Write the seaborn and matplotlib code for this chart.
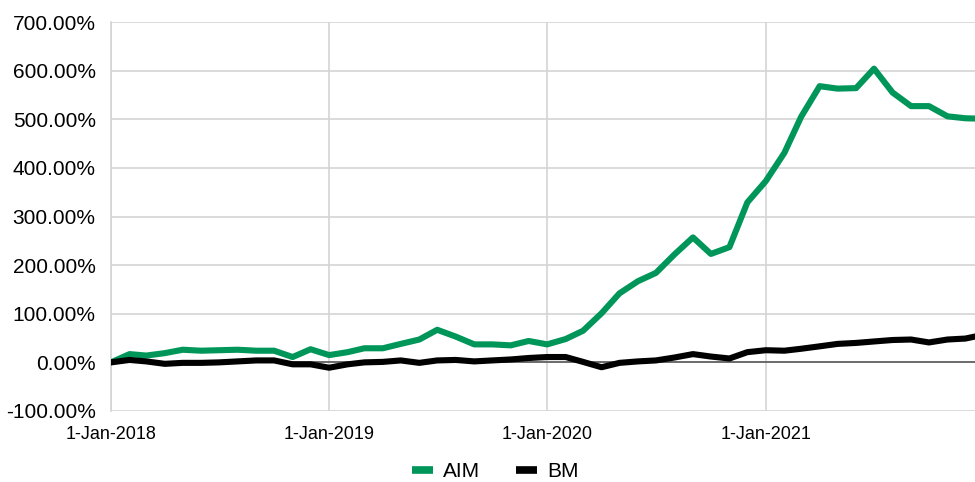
import pandas as pd
import numpy as np
import matplotlib
matplotlib.use("Agg")
import matplotlib.pyplot as plt
import matplotlib.ticker as mticker
from matplotlib.lines import Line2D
import seaborn as sns

# monthly cumulative return (%) from Jan 2018
months = pd.date_range("2018-01-01", periods=49, freq="MS")
aim = [0, 17, 14, 19, 26, 24, 25, 26, 24, 24, 11, 27,
       15, 21, 29, 29, 38, 47, 67, 53, 37, 37, 35, 44,
       37, 48, 65, 101, 142, 167, 184, 222, 257, 223, 237, 329,
       373, 431, 505, 568, 563, 564, 604, 555, 527, 527, 506, 502,
       501]
bm = [0, 5, 2, -3, -1, -1, 0, 2, 4, 4, -4, -4,
      -11, -4, 0, 1, 4, -1, 4, 5, 2, 4, 6, 9,
      11, 11, 1, -10, -1, 2, 4, 10, 17, 12, 8, 21,
      25, 24, 28, 33, 38, 40, 43, 46, 47, 41, 47, 49,
      57]
series_names = ["AIM", "BM"]
colors = {"AIM": "#00965a", "BM": "#000000"}
year_ticks = pd.to_datetime(["2018-01-01", "2019-01-01", "2020-01-01", "2021-01-01"])
year_labels = ["1-Jan-2018", "1-Jan-2019", "1-Jan-2020", "1-Jan-2021"]
y_ticks = list(range(-100, 701, 100))

df = pd.DataFrame({"Date": months, "AIM": aim, "BM": bm})
long_df = df.melt(id_vars="Date", var_name="Series", value_name="Return")

sns.set_theme(style="white")
plt.rcParams["font.family"] = ["Liberation Sans", "DejaVu Sans"]

fig = plt.figure(figsize=(9.75, 4.82), dpi=100)
ax = fig.add_axes([111 / 975, 1 - 411 / 482, 1 - 111 / 975, (411 - 22) / 482])

ax.axhline(0, color="#595959", lw=1.2, zorder=1)
sns.lineplot(data=long_df, x="Date", y="Return", hue="Series", hue_order=series_names,
             palette=colors, linewidth=4.4, ax=ax, legend=False, zorder=3)

ax.set_xlim(pd.Timestamp("2018-01-01"), pd.Timestamp("2021-12-17"))
ax.set_ylim(-100, 700)
ax.set_xticks(year_ticks)
ax.set_xticklabels(year_labels, fontsize=13, color="#000000")
ax.set_yticks(y_ticks)
ax.yaxis.set_major_formatter(mticker.FuncFormatter(lambda v, p: f"{v:.2f}%"))
ax.tick_params(axis="y", labelsize=15, colors="#000000", length=0, pad=11)
ax.tick_params(axis="x", length=0, pad=11)
ax.grid(True, color="#d4d4d4", lw=1.2, zorder=0)
ax.set_axisbelow(True)
ax.set_xlabel("")
ax.set_ylabel("")
for side in ["top", "right", "bottom"]:
    ax.spines[side].set_visible(False)
ax.spines["left"].set_color("#d4d4d4")
ax.spines["left"].set_linewidth(1.2)

handles = [Line2D([0], [0], color=colors[n], lw=5.5, solid_capstyle="butt") for n in series_names]
fig.legend(handles, series_names, loc="center", bbox_to_anchor=(0.508, 0.022),
           ncol=2, frameon=False, fontsize=15, handlelength=1.0, columnspacing=1.7,
           handletextpad=0.5, labelcolor="#000000")

fig.savefig("out.png", dpi=100)
